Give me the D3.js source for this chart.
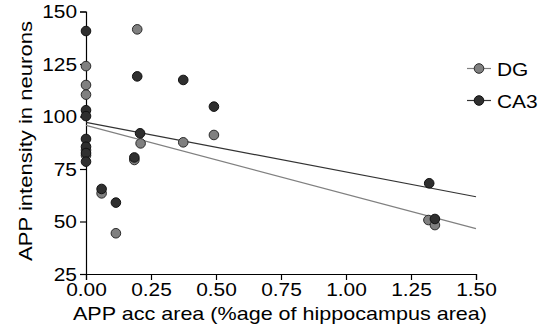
<!DOCTYPE html>
<html><head><meta charset="utf-8">
<script src="https://cdn.jsdelivr.net/npm/d3@7"></script>
<style>body{margin:0;background:#fff}svg{display:block}text{font-family:"Liberation Sans",Arial,sans-serif;fill:#000}</style>
</head><body>
<svg id="c" width="541" height="326"></svg>
<script>
// data
const dgX  = [0, 0, 0, 0, 0, 0.06, 0.115, 0.186, 0.197, 0.21, 0.374, 0.492, 1.317, 1.342];
const dgY  = [124, 115, 110.4, 84, 81.5, 63.4, 44.4, 79.3, 141.5, 87.2, 87.7, 91.2, 50.7, 48.3];
const ca3X = [0, 0, 0, 0, 0, 0, 0, 0.06, 0.115, 0.186, 0.197, 0.208, 0.374, 0.492, 1.32, 1.342];
const ca3Y = [140.7, 103, 100.2, 89.3, 85.6, 82.6, 78.5, 65.5, 59, 80.5, 119.1, 92, 117.4, 104.7, 68.2, 51.2];
const fitDG  = [95.8, -32.8];   // intercept, slope
const fitCA3 = [97.2, -23.6];
const xTicks = [0, 0.25, 0.5, 0.75, 1.0, 1.25, 1.5];
const yTicks = [25, 50, 75, 100, 125, 150];
const seriesNames = ["DG", "CA3"];

const FS = 19, STRETCH = 1.1;
const svg = d3.select("#c");
const x = d3.scaleLinear().domain([0, 1.5]).range([86, 476]);
const y = d3.scaleLinear().domain([25, 150]).range([274, 11.5]);

const colors = {DG: {fill: "#808080", stroke: "#2a2a2a", line: "#808080"},
                CA3: {fill: "#2f2f2f", stroke: "#111", line: "#333"}};

function stretch(sel, len) {
  sel.each(function() {
    const w = this.getComputedTextLength();
    d3.select(this).attr("textLength", len || w * STRETCH).attr("lengthAdjust", "spacingAndGlyphs");
  });
}

// axes
const yAxis = svg.append("g").attr("transform", "translate(86,0)")
  .call(d3.axisLeft(y).tickValues(yTicks).tickSize(6).tickPadding(3).tickFormat(d3.format("d")));
const xAxis = svg.append("g").attr("transform", "translate(0,274)")
  .call(d3.axisBottom(x).tickValues(xTicks).tickSize(6).tickPadding(3).tickFormat(d3.format(".2f")));
[yAxis, xAxis].forEach(g => {
  g.attr("font-family", null).attr("font-size", null);
  g.select(".domain").attr("stroke", "#000").attr("stroke-width", 1.2);
  g.selectAll(".tick line").attr("stroke", "#000").attr("stroke-width", 1.2);
  g.selectAll("text").style("font-size", FS + "px").attr("fill", "#000").call(stretch);
});

// fit lines
function fitLine(fit, col) {
  svg.append("line")
    .attr("x1", x(0)).attr("y1", y(fit[0]))
    .attr("x2", x(1.5)).attr("y2", y(fit[0] + fit[1] * 1.5))
    .attr("stroke", col).attr("stroke-width", 1.2);
}
fitLine(fitDG, colors.DG.line);
fitLine(fitCA3, colors.CA3.line);

// points
function pts(xs, ys, c) {
  svg.append("g").selectAll("circle").data(xs.map((v, i) => [v, ys[i]])).join("circle")
    .attr("cx", d => x(d[0])).attr("cy", d => y(d[1])).attr("r", 4.8)
    .attr("fill", c.fill).attr("stroke", c.stroke).attr("stroke-width", 1);
}
pts(dgX, dgY, colors.DG);
pts(ca3X, ca3Y, colors.CA3);

// legend
const lg = svg.append("g");
seriesNames.forEach((n, i) => {
  const cy = 68.5 + i * 32;
  lg.append("line").attr("x1", 467).attr("x2", 491).attr("y1", cy).attr("y2", cy)
    .attr("stroke", colors[n].line).attr("stroke-width", 1.2);
  lg.append("circle").attr("cx", 479).attr("cy", cy).attr("r", 4.8)
    .attr("fill", colors[n].fill).attr("stroke", colors[n].stroke);
  lg.append("text").attr("x", 497).attr("y", cy + 7).style("font-size", FS + "px").text(n).call(stretch);
});

// axis titles
svg.append("text").attr("x", 280).attr("y", 319.5).attr("text-anchor", "middle")
  .style("font-size", FS + "px").text("APP acc area (%age of hippocampus area)").call(stretch, 414);
svg.append("text").attr("transform", "translate(32,141) rotate(-90)").attr("text-anchor", "middle")
  .style("font-size", FS + "px").text("APP intensity in neurons").call(stretch, 240);
</script>
</body></html>
